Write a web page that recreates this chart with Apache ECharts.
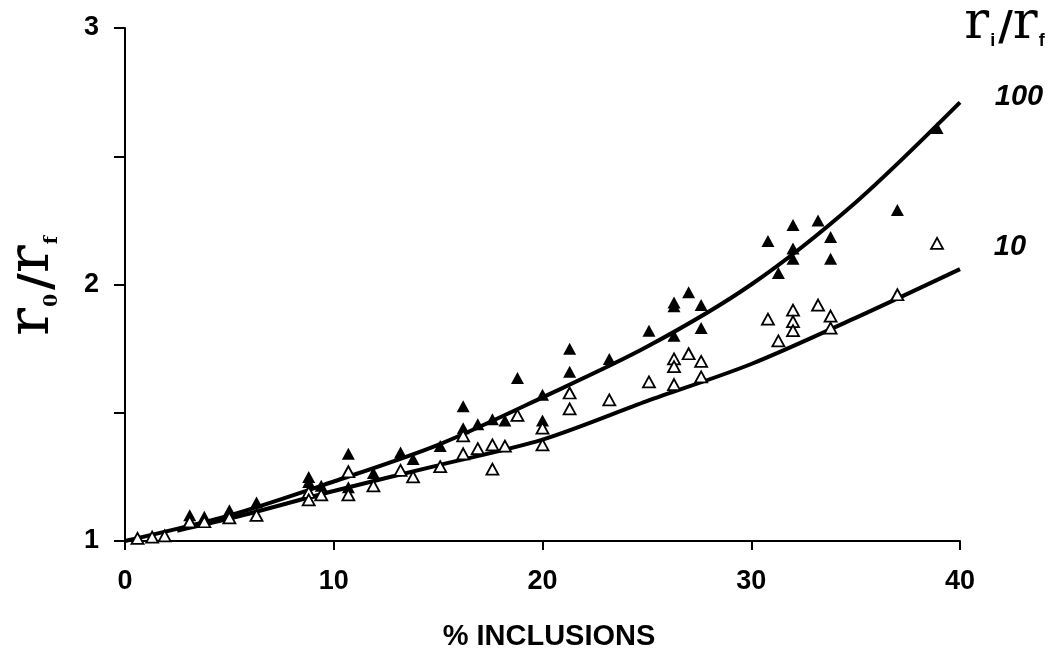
<!DOCTYPE html>
<html>
<head>
<meta charset="utf-8">
<script src="https://cdn.jsdelivr.net/npm/echarts@6/dist/echarts.min.js"></script>
<style>
html,body{margin:0;padding:0;background:#fff;}
#main{width:1063px;height:660px;}
</style>
</head>
<body>
<div id="main"></div>
<script>
// measured points, ri/rf = 100 (filled) and ri/rf = 10 (open)
var filled100 = [[3.1,1.10],[3.8,1.095],[5.0,1.12],[6.3,1.15],[8.8,1.25],[8.8,1.23],[9.4,1.215],
	[10.7,1.34],[10.7,1.21],[11.9,1.265],[13.2,1.345],[13.8,1.32],[15.1,1.37],[16.2,1.525],[16.2,1.44],
	[16.9,1.455],[17.6,1.475],[18.2,1.47],[18.8,1.635],[20.0,1.57],[20.0,1.47],[21.3,1.75],[21.3,1.66],
	[23.2,1.71],[25.1,1.82],[26.3,1.93],[26.3,1.915],[26.3,1.80],[27.0,1.97],[27.6,1.92],[27.6,1.83],
	[30.8,2.17],[31.3,2.045],[32.0,2.232],[32.0,2.14],[32.0,2.10],[33.2,2.25],[33.8,2.185],[33.8,2.10],
	[37.0,2.29],[38.9,2.61]];
var open10 = [[0.6,1.01],[1.3,1.015],[1.9,1.02],[3.1,1.075],[3.8,1.075],[5.0,1.09],[6.3,1.10],[8.8,1.19],
	[8.8,1.16],[9.4,1.18],[10.7,1.27],[10.7,1.18],[11.9,1.215],[13.2,1.275],[13.8,1.25],[15.1,1.29],
	[16.2,1.41],[16.2,1.34],[16.9,1.36],[17.6,1.375],[17.6,1.28],[18.2,1.37],[18.8,1.49],[20.0,1.44],
	[20.0,1.375],[21.3,1.577],[21.3,1.515],[23.2,1.55],[25.1,1.62],[26.3,1.71],[26.3,1.68],[26.3,1.61],
	[27.0,1.73],[27.6,1.70],[27.6,1.64],[30.8,1.865],[31.3,1.78],[32.0,1.90],[32.0,1.855],[32.0,1.82],
	[33.2,1.92],[33.8,1.877],[33.8,1.83],[37.0,1.96],[38.9,2.16]];

// model curves
var fitX100 = [0,5,10,15,20,25,30,35,40];
var fitY100 = [1.0,1.10,1.232,1.375,1.56,1.757,2.0,2.32,2.71];
var fitX10 = [2.5,5,10,15,20,25,30,35,40];
var fitY10 = [1.04,1.087,1.195,1.295,1.395,1.545,1.69,1.87,2.06];

var xTicks = [0,10,20,30,40];

function pairs(xs,ys){
	var ret=[];
	for(var i=0;i<xs.length;i++){
		ret.push([xs[i],ys[i]]);
	}
	return ret;
}

var myChart = echarts.init(document.getElementById('main'));
var labelFont = {color:'#000',fontSize:27,fontWeight:'bold',fontFamily:'Liberation Sans, Arial, sans-serif'};

option = {
	animation:false,
	grid:{left:125,right:103,top:28,bottom:119},
	xAxis:{
		type:'value',
		min:xTicks[0],
		max:xTicks[xTicks.length-1],
		interval:10,
		splitLine:{show:false},
		axisLine:{lineStyle:{color:'#000',width:2}},
		axisTick:{length:9,lineStyle:{color:'#000',width:2}},
		axisLabel:Object.assign({margin:27},labelFont)
	},
	yAxis:{
		type:'value',
		min:1,
		max:3,
		interval:0.5,
		splitLine:{show:false},
		axisLine:{lineStyle:{color:'#000',width:2}},
		axisTick:{length:11,lineStyle:{color:'#000',width:2}},
		axisLabel:Object.assign({
			margin:26,
			formatter:function(v){ return v%1===0 ? String(v) : ''; }
		},labelFont)
	},
	graphic:[
		{
			type:'text', x:549, y:637,
			style:{text:'% INCLUSIONS',align:'center',verticalAlign:'middle',fill:'#000',
				font:'bold 29px "Liberation Sans", Arial, sans-serif'}
		},
		{
			type:'text', x:33, y:284, rotation:Math.PI/2,
			style:{
				text:'{r|r}{s|0}{sl|/}{r|r}{s|f}',
				align:'center',verticalAlign:'middle',fill:'#000',
				rich:{
					r:{fontFamily:'DejaVu Serif',fontSize:58,lineHeight:58,verticalAlign:'bottom'},
					s:{fontFamily:'DejaVu Serif',fontSize:19,fontWeight:'bold',lineHeight:19,verticalAlign:'bottom',padding:[0,4,0,1]},
					sl:{fontFamily:'DejaVu Sans',fontSize:46,fontWeight:'bold',lineHeight:58,verticalAlign:'bottom'}
				}
			}
		},
		{
			type:'text', x:1006, y:24,
			style:{
				text:'{r|r}{s|i}{sl|/}{r|r}{s|f}',
				align:'center',verticalAlign:'middle',fill:'#000',
				rich:{
					r:{fontFamily:'DejaVu Serif',fontSize:52,lineHeight:52,verticalAlign:'bottom'},
					s:{fontFamily:'Liberation Sans',fontSize:18,fontWeight:'bold',lineHeight:18,verticalAlign:'bottom',padding:[0,3,0,1]},
					sl:{fontFamily:'DejaVu Sans',fontSize:40,fontWeight:'bold',lineHeight:52,verticalAlign:'bottom'}
				}
			}
		},
		{
			type:'text', x:1019, y:97,
			style:{text:'100',align:'center',verticalAlign:'middle',fill:'#000',
				font:'italic bold 29px "Liberation Sans", Arial, sans-serif'}
		},
		{
			type:'text', x:1010, y:247,
			style:{text:'10',align:'center',verticalAlign:'middle',fill:'#000',
				font:'italic bold 29px "Liberation Sans", Arial, sans-serif'}
		}
	],
	series:[
		{
			name:'fit100',
			type:'line',
			smooth:0.3,
			symbol:'none',
			z:2,
			lineStyle:{color:'#000',width:4},
			data:pairs(fitX100,fitY100)
		},
		{
			name:'fit10',
			type:'line',
			smooth:0.3,
			symbol:'none',
			z:2,
			lineStyle:{color:'#000',width:4},
			data:pairs(fitX10,fitY10)
		},
		{
			name:'100',
			type:'scatter',
			symbol:'triangle',
			symbolSize:[13,12],
			z:3,
			itemStyle:{color:'#000',opacity:1},
			data:filled100
		},
		{
			name:'10',
			type:'scatter',
			symbol:'triangle',
			symbolSize:[12,11],
			z:4,
			itemStyle:{color:'#fff',borderColor:'#000',borderWidth:1.8,opacity:1},
			data:open10
		}
	]
};
myChart.setOption(option);
</script>
</body>
</html>
